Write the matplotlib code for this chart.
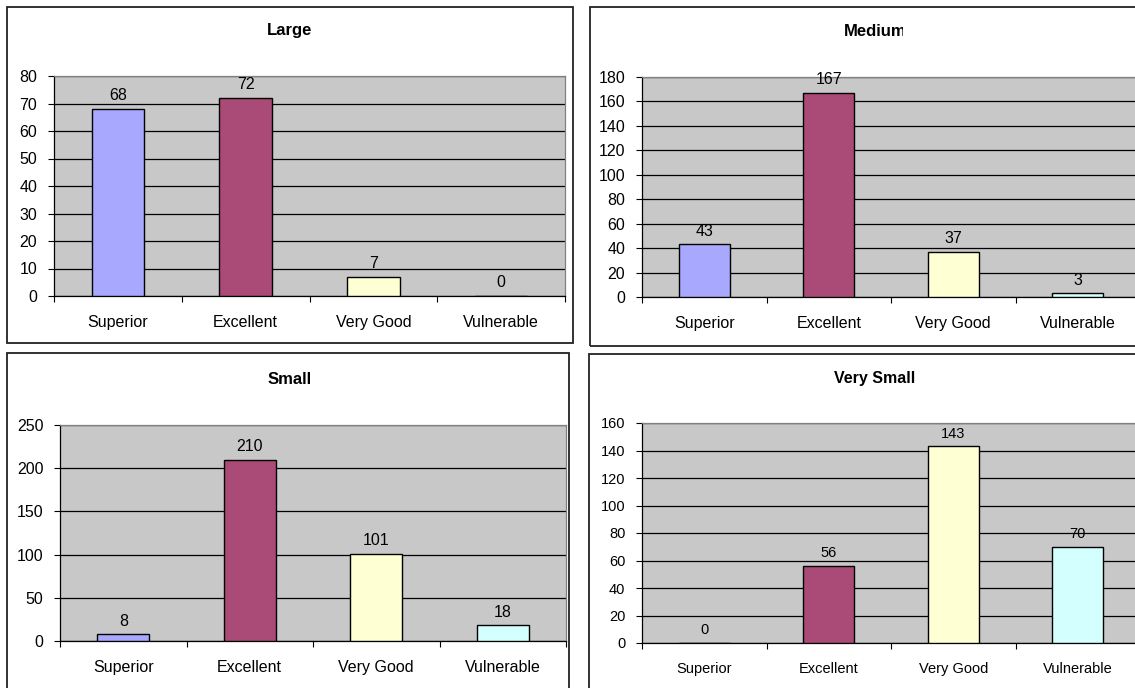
import matplotlib.pyplot as plt
from matplotlib.patches import Rectangle
from matplotlib.transforms import Bbox

plt.rcParams["font.family"] = ["Liberation Sans", "DejaVu Sans"]

W, H = 1135, 688

categories = ["Superior", "Excellent", "Very Good", "Vulnerable"]
large = [68, 72, 7, 0]
medium = [43, 167, 37, 3]
small = [8, 210, 101, 18]
very_small = [0, 56, 143, 70]

bar_colors = ["#A8A8FF", "#AA4A76", "#FFFFD4", "#D4FFFF"]

# name, values, ymax, step, axes px (left, top, right, bottom), box px, title px, font size, title size
panels = [
    ("Large", large, 80, 10, (54, 76, 565, 296), (7, 7, 573, 343), (290, 31), 11.5, 12),
    ("Medium", medium, 180, 20, (642, 77, 1140, 297), (590, 7, 1150, 346), (875, 31), 11.5, 12),
    ("Small", small, 250, 50, (60, 425, 566, 641), (7, 353, 569, 695), (290, 379), 11.5, 12),
    ("Very Small", very_small, 160, 20, (642, 423, 1140, 643), (589, 354, 1150, 695), (875, 378), 10.5, 11.5),
]

fig = plt.figure(figsize=(W / 100, H / 100), dpi=100)
fig.patch.set_facecolor("white")


def fx(x):
    return x / W


def fy(y):
    return 1 - y / H


for name, vals, ymax, step, (l, t, r, b), (bl, bt, br, bb), (tx, ty), fs, tfs in panels:
    # chart border
    fig.patches.append(Rectangle((fx(bl), fy(bb)), fx(br - bl), (bb - bt) / H,
                                 transform=fig.transFigure, fill=False,
                                 edgecolor="#222222", linewidth=1.3, zorder=0))
    title = fig.text(fx(tx), fy(ty), name, ha="center", va="center",
                     fontsize=tfs, fontweight="bold")
    if name == "Medium":
        # the original title is cut off at the right
        title.set_clip_box(Bbox([[0, 0], [903, H]]))
        title.set_clip_on(True)

    ax = fig.add_axes([fx(l), fy(b), fx(r - l), (b - t) / H])
    ax.set_facecolor("#C8C8C8")
    x = range(len(categories))
    ax.bar(x, vals, width=0.41, color=bar_colors, edgecolor="black",
           linewidth=1.0, zorder=3)
    for xi, v in zip(x, vals):
        ax.annotate(str(v), (xi, v), xytext=(0, 4), textcoords="offset points",
                    ha="center", va="bottom", fontsize=fs, zorder=4)

    ax.set_xlim(-0.5, len(categories) - 0.5)
    ax.set_ylim(0, ymax)
    ax.set_yticks(range(0, ymax + 1, step))
    ax.yaxis.grid(True, color="black", linewidth=0.9)
    ax.set_axisbelow(True)

    ax.set_xticks([i - 0.5 for i in range(len(categories) + 1)])
    ax.set_xticklabels([])
    ax.set_xticks(list(x), minor=True)
    ax.set_xticklabels(categories, minor=True, fontsize=fs)
    ax.tick_params(axis="x", which="major", direction="out", length=4, width=0.8)
    ax.tick_params(axis="x", which="minor", length=0, pad=14)
    ax.tick_params(axis="y", direction="out", length=4, width=0.8,
                   labelsize=fs, pad=8)

    for side in ("top", "right"):
        ax.spines[side].set_color("#808080")
        ax.spines[side].set_linewidth(0.9)
    for side in ("left", "bottom"):
        ax.spines[side].set_color("black")
        ax.spines[side].set_linewidth(0.9)

fig.savefig("out.png", dpi=100, facecolor="white")
